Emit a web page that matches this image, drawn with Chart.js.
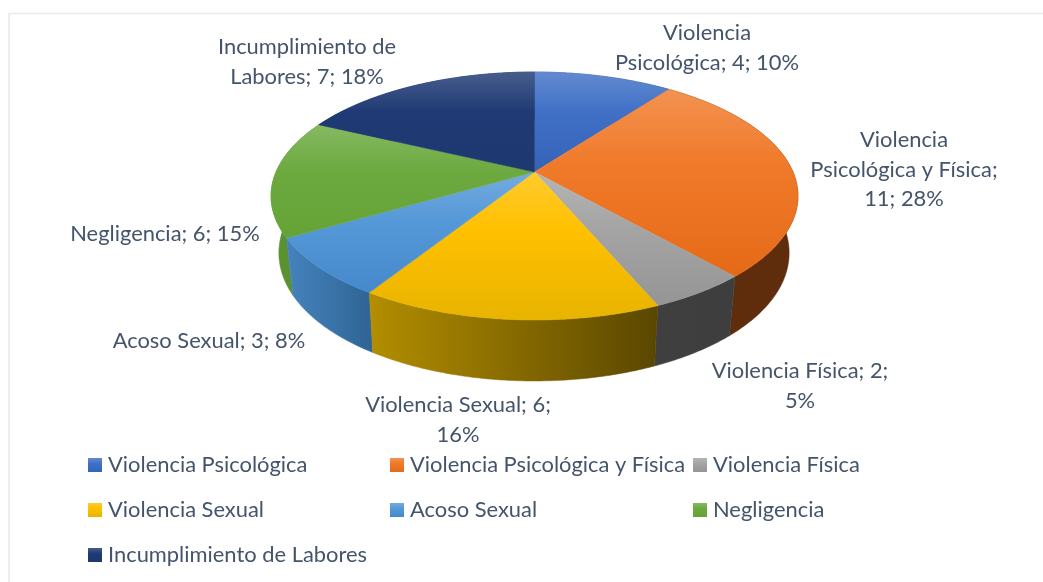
<!DOCTYPE html>
<html>
<head>
<meta charset="utf-8">
<script src="https://cdn.jsdelivr.net/npm/chart.js@4"></script>
<style>
  html, body { margin: 0; padding: 0; background: #fff; }
  #wrap { position: relative; width: 1043px; height: 582px; }
</style>
</head>
<body>
<div id="wrap"><canvas id="chart" width="1043" height="582"></canvas></div>
<script>
const categories = ['Violencia Psicológica', 'Violencia Psicológica y Física', 'Violencia Física',
  'Violencia Sexual', 'Acoso Sexual', 'Negligencia', 'Incumplimiento de Labores'];
const values = [4, 11, 2, 6, 3, 6, 7];
const labelLines = [
  ['Violencia', 'Psicológica; 4; 10%'],
  ['Violencia', 'Psicológica y Física;', '11; 28%'],
  ['Violencia Física; 2;', '5%'],
  ['Violencia Sexual; 6;', '16%'],
  ['Acoso Sexual; 3; 8%'],
  ['Negligencia; 6; 15%'],
  ['Incumplimiento de', 'Labores; 7; 18%']
];
const colors = ['#4070C6', '#F07A2A', '#A5A5A5', '#FFC000', '#5599D8', '#6CAA40', '#1F3A74'];
const faceEnd = ['#3563B8', '#E56A17', '#959595', '#E8B400', '#4589CC', '#65A336', '#1E3870'];
const wallLeft = ['#30528c', '#5f2c0c', '#3f3f3f', '#b38e00', '#4583bd', '#5c9433', '#16294f'];
const wallRight = ['#30528c', '#5f2c0c', '#3e3e3e', '#5a4700', '#2f6494', '#558a2e', '#16294f'];

// where each data label goes: centre x, first baseline y
const labelPos = [[707, 40], [904, 147], [800, 378], [458, 412], [209, 348], [165, 241], [307, 54]];
const legendCols = [88, 390, 693];
const legendRows = [458, 503, 548];

const TEXT = '#44546A';
const FONT = '21.9px Lato';
const LINE_H = 29.5;

// the pie is a tilted disc, so map the unit circle through a small perspective
const cx = 534.5, cy = 172, ra = 258.5, rb = 119.35, persp = 0.1935;
function topPoint(a) {
  const u = Math.cos(a), v = Math.sin(a), w = 1 - persp * v;
  return [cx + ra * u / w, cy + rb * v / w];
}
function bottomPoint(a) {
  const p = topPoint(a), v = Math.sin(a);
  return [cx - 0.5 + (p[0] - cx) * (0.966 + 0.012 * v), p[1] + 54 + 7 * v];
}
function samples(start, end) {
  const n = Math.max(2, Math.ceil((end - start) / 0.01));
  const out = [];
  for (let i = 0; i <= n; i++) out.push(start + (end - start) * i / n);
  return out;
}
function lighten(hex, amount) {
  const c = [1, 3, 5].map(i => parseInt(hex.slice(i, i + 2), 16));
  return 'rgb(' + c.map(x => Math.round(x + (255 - x) * amount)).join(',') + ')';
}
function topGradient(ctx, i, y0, y1) {
  const g = ctx.createLinearGradient(0, y0, 0, y1);
  g.addColorStop(0, lighten(colors[i], 0.18));
  g.addColorStop(0.4, colors[i]);
  g.addColorStop(1, faceEnd[i]);
  return g;
}

const pie3d = {
  id: 'pie3d',
  beforeDatasetsDraw(chart) {
    const ctx = chart.ctx;
    const arcs = chart.getDatasetMeta(0).data.map((arc, i) => ({ arc, i }));

    // side walls first, back ones before front ones
    const order = arcs.slice().sort((p, q) =>
      Math.sin((p.arc.startAngle + p.arc.endAngle) / 2) - Math.sin((q.arc.startAngle + q.arc.endAngle) / 2));
    for (const { arc, i } of order) {
      const as = samples(arc.startAngle, arc.endAngle);
      const top = as.map(topPoint);
      const bot = as.map(bottomPoint);
      const xs = top.concat(bot).map(p => p[0]);
      const g = ctx.createLinearGradient(Math.min(...xs), 0, Math.max(...xs), 0);
      g.addColorStop(0, wallLeft[i]);
      g.addColorStop(1, wallRight[i]);
      ctx.beginPath();
      top.forEach((p, k) => k ? ctx.lineTo(p[0], p[1]) : ctx.moveTo(p[0], p[1]));
      bot.reverse().forEach(p => ctx.lineTo(p[0], p[1]));
      ctx.closePath();
      ctx.fillStyle = g;
      ctx.strokeStyle = g;
      ctx.lineWidth = 0.5;
      ctx.fill();
      ctx.stroke();
    }

    // top face
    for (const { arc, i } of arcs) {
      const pts = samples(arc.startAngle, arc.endAngle).map(topPoint);
      const ys = pts.map(p => p[1]).concat(cy);
      const g = topGradient(ctx, i, Math.min(...ys), Math.max(...ys));
      ctx.beginPath();
      ctx.moveTo(cx, cy);
      pts.forEach(p => ctx.lineTo(p[0], p[1]));
      ctx.closePath();
      ctx.fillStyle = g;
      ctx.strokeStyle = g;
      ctx.lineWidth = 0.5;
      ctx.fill();
      ctx.stroke();
    }
    return false;
  },
  afterDraw(chart) {
    const ctx = chart.ctx;
    ctx.save();

    // thin frame, only top and left are inside the crop
    ctx.strokeStyle = '#E6E9EE';
    ctx.lineWidth = 1.5;
    ctx.beginPath();
    ctx.moveTo(9, 582);
    ctx.lineTo(9, 13.5);
    ctx.lineTo(1043, 13.5);
    ctx.stroke();

    ctx.font = FONT;
    ctx.fillStyle = TEXT;
    ctx.textBaseline = 'alphabetic';

    ctx.textAlign = 'center';
    labelLines.forEach((lines, i) => {
      lines.forEach((line, k) => ctx.fillText(line, labelPos[i][0], labelPos[i][1] + k * LINE_H));
    });

    ctx.textAlign = 'left';
    categories.forEach((name, i) => {
      const x = legendCols[i % 3], y = legendRows[Math.floor(i / 3)];
      ctx.fillStyle = topGradient(ctx, i, y, y + 14);
      ctx.fillRect(x, y, 14, 14);
      ctx.fillStyle = TEXT;
      ctx.fillText(name, x + 20, y + 14);
    });
    ctx.restore();
  }
};

new Chart(document.getElementById('chart'), {
  type: 'pie',
  data: {
    labels: categories,
    datasets: [{ data: values, backgroundColor: colors, borderWidth: 0 }]
  },
  options: {
    responsive: false,
    animation: false,
    rotation: 0,
    events: [],
    plugins: { legend: { display: false }, tooltip: { enabled: false } }
  },
  plugins: [pie3d]
});
</script>
</body>
</html>
